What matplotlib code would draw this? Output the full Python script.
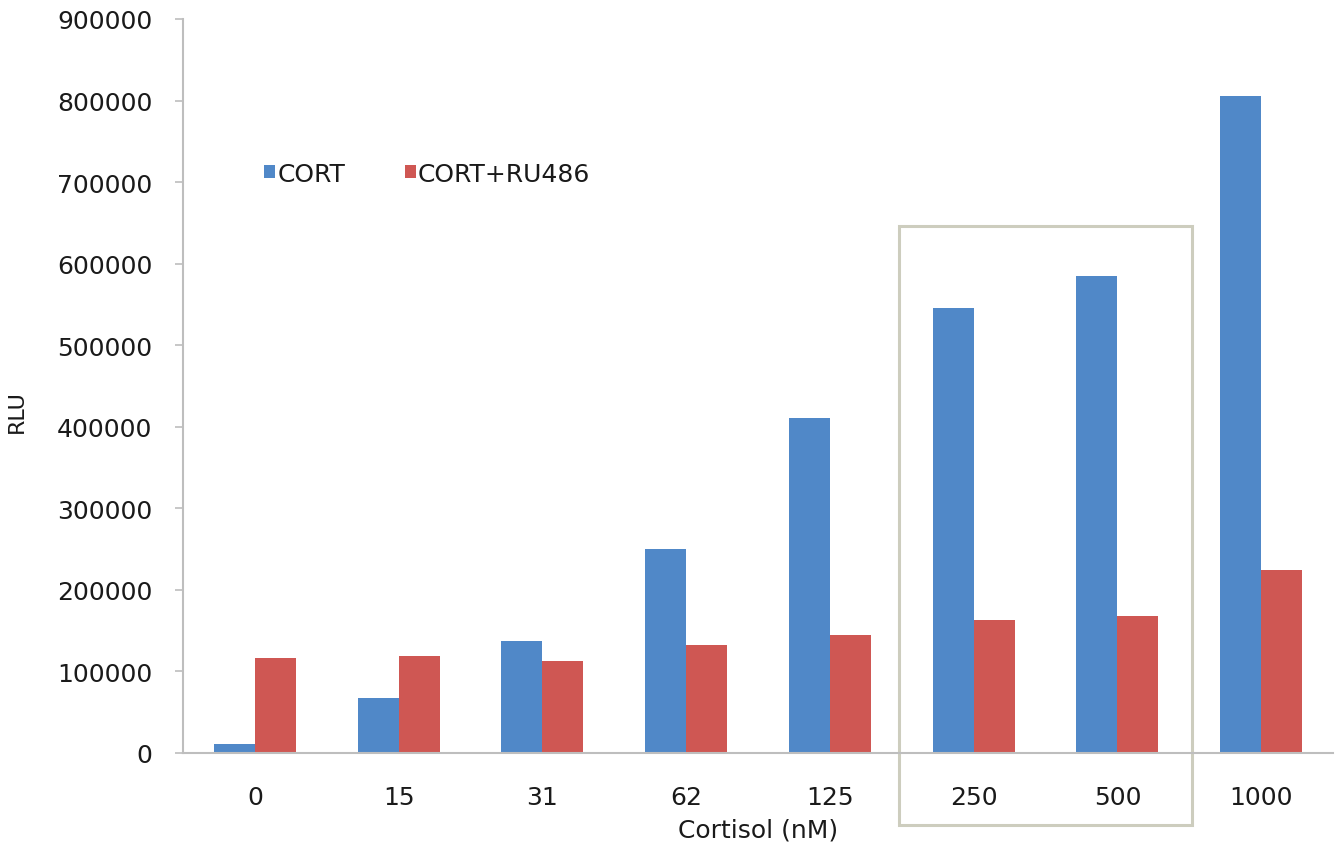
import numpy as np
import matplotlib.pyplot as plt
from matplotlib.patches import Rectangle

plt.rcParams['font.family'] = ['DejaVu Sans']

# cortisol doses and luciferase readout
doses = ['0', '15', '31', '62', '125', '250', '500', '1000']
cort = [11000, 68000, 137000, 250000, 411000, 545000, 585000, 806000]
cort_ru486 = [117000, 119000, 113000, 132000, 145000, 163000, 168000, 224000]

blue = '#5088C8'
red = '#CF5753'
axis_grey = '#BEBEBE'

fig = plt.figure(figsize=(13.42, 8.53), dpi=100)
ax = fig.add_axes([0.1364, 0.1161, 0.8569, 0.8605])

x = np.arange(len(doses))
w = 0.285
ax.bar(x - w / 2, cort, w, color=blue, label='CORT')
ax.bar(x + w / 2, cort_ru486, w, color=red, label='CORT+RU486')

ax.set_xlim(-0.5, len(doses) - 0.5)
ax.set_ylim(0, 900000)
ax.set_yticks(np.arange(0, 900001, 100000))
ax.set_xticks(x)
ax.set_xticklabels(doses)

for s in ['top', 'right']:
    ax.spines[s].set_visible(False)
for s in ['left', 'bottom']:
    ax.spines[s].set_color(axis_grey)
    ax.spines[s].set_linewidth(1.5)

ax.tick_params(axis='y', length=6, width=1.2, color=axis_grey, pad=16, labelsize=18,
               labelcolor='#1A1A1A')
ax.tick_params(axis='x', length=0, pad=23, labelsize=18, labelcolor='#1A1A1A')

ax.set_xlabel('Cortisol (nM)', fontsize=18, color='#1A1A1A')
ax.xaxis.set_label_coords(0.5, -0.088)
ax.set_ylabel('RLU', fontsize=16, color='#1A1A1A')
ax.yaxis.set_label_coords(-0.136, 0.467)

ax.legend(loc='upper left', bbox_to_anchor=(0.051, 0.836), ncol=2, frameon=False,
          fontsize=18, handlelength=0.42, handleheight=0.42, handletextpad=0.1,
          columnspacing=2.4, labelcolor='#1A1A1A')

# highlight box around the 250 and 500 nM groups
box = Rectangle((4.48, -88000), 2.04, 734000, fill=False, edgecolor='#CDCDBE',
                linewidth=2.2, clip_on=False)
ax.add_patch(box)

fig.savefig('out.png', dpi=100)
